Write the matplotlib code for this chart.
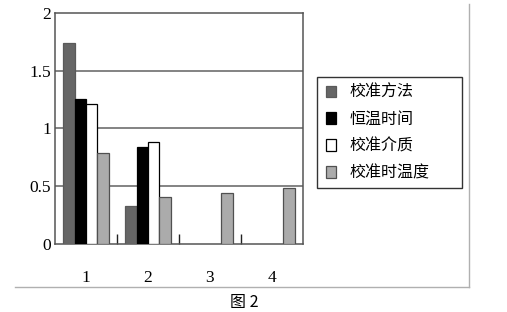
import numpy as np
import matplotlib.pyplot as plt
from matplotlib.patches import Patch, Rectangle
from matplotlib.lines import Line2D

#----- Data ------------------------------------------------------------------------------------

categories = ["1", "2", "3", "4"]
series_names = ["校准方法", "恒温时间", "校准介质", "校准时温度"]
fangfa = [1.74, 0.33, 0.0, 0.0]
hengwen = [1.25, 0.84, 0.0, 0.0]
jiezhi = [1.21, 0.88, 0.0, 0.0]
wendu = [0.79, 0.41, 0.44, 0.48]
y_ticks = [0, 0.5, 1, 1.5, 2]
y_labels = ["0", "0.5", "1", "1.5", "2"]
caption = "图 2"

face_colors = ["#666666", "#000000", "#ffffff", "#ababab"]
edge_colors = ["#5a5a5a", "#000000", "#000000", "#505050"]

#----- Plot ------------------------------------------------------------------------------------

fig = plt.figure(figsize=(5.07, 3.12), dpi=100)
ax = fig.add_axes([55/507, 1-244/312, 248/507, (244-12.7)/312])

x = np.arange(len(categories))
w = 0.183
all_series = [fangfa, hengwen, jiezhi, wendu]
for i, vals in enumerate(all_series):
    vals = np.array(vals)
    mask = vals > 0
    ax.bar(x[mask] + (i - 1.5)*w, vals[mask], width=w, color=face_colors[i],
           edgecolor=edge_colors[i], linewidth=0.9, zorder=3)

for yv in y_ticks[1:-1]:
    ax.axhline(yv, color="#7a7a7a", lw=1.3, zorder=1)

ax.set_xlim(-0.5, 3.5)
ax.set_ylim(0, 2)
ax.set_yticks(y_ticks)
ax.set_yticklabels(y_labels, fontfamily="Liberation Serif", fontsize=12.5)
ax.tick_params(axis="y", length=0, pad=3)
ax.set_xticks(x)
ax.set_xticklabels(categories, fontfamily="Liberation Serif", fontsize=12.5)
ax.tick_params(axis="x", which="major", length=0, pad=19)
ax.set_xticks([0.5, 1.5, 2.5], minor=True)
ax.tick_params(axis="x", which="minor", direction="in", length=7, width=1, color="#222222")
for s in ax.spines.values():
    s.set_color("#555555")
    s.set_linewidth(1.1)

# legend box
fig.patches.append(Rectangle((317/507, 1-188/312), 145/507, 111/312, transform=fig.transFigure,
                             fill=False, edgecolor="#333333", lw=1.0))
handles = [Patch(facecolor=face_colors[i], edgecolor=edge_colors[i], lw=0.9) for i in range(4)]
fig.legend(handles, series_names, loc="upper left", bbox_to_anchor=(326/507, 1-84/312),
           frameon=False, prop={"family": "Noto Sans CJK SC", "size": 11.5},
           handlelength=0.65, handleheight=0.75, handletextpad=0.8, labelspacing=0.62,
           borderpad=0, borderaxespad=0)

# outer frame (right and bottom)
fig.add_artist(Line2D([469/507, 469/507], [1-287/312, 1-4/312], transform=fig.transFigure,
                      color="#b0b0b0", lw=1.0))
fig.add_artist(Line2D([15/507, 469/507], [1-287/312, 1-287/312], transform=fig.transFigure,
                      color="#b0b0b0", lw=1.0))

fig.text(244/507, 1-302/312, caption, ha="center", va="center",
         family=["Noto Sans CJK SC", "DejaVu Sans"], fontsize=11.5)

plt.savefig("out.png", dpi=100)
